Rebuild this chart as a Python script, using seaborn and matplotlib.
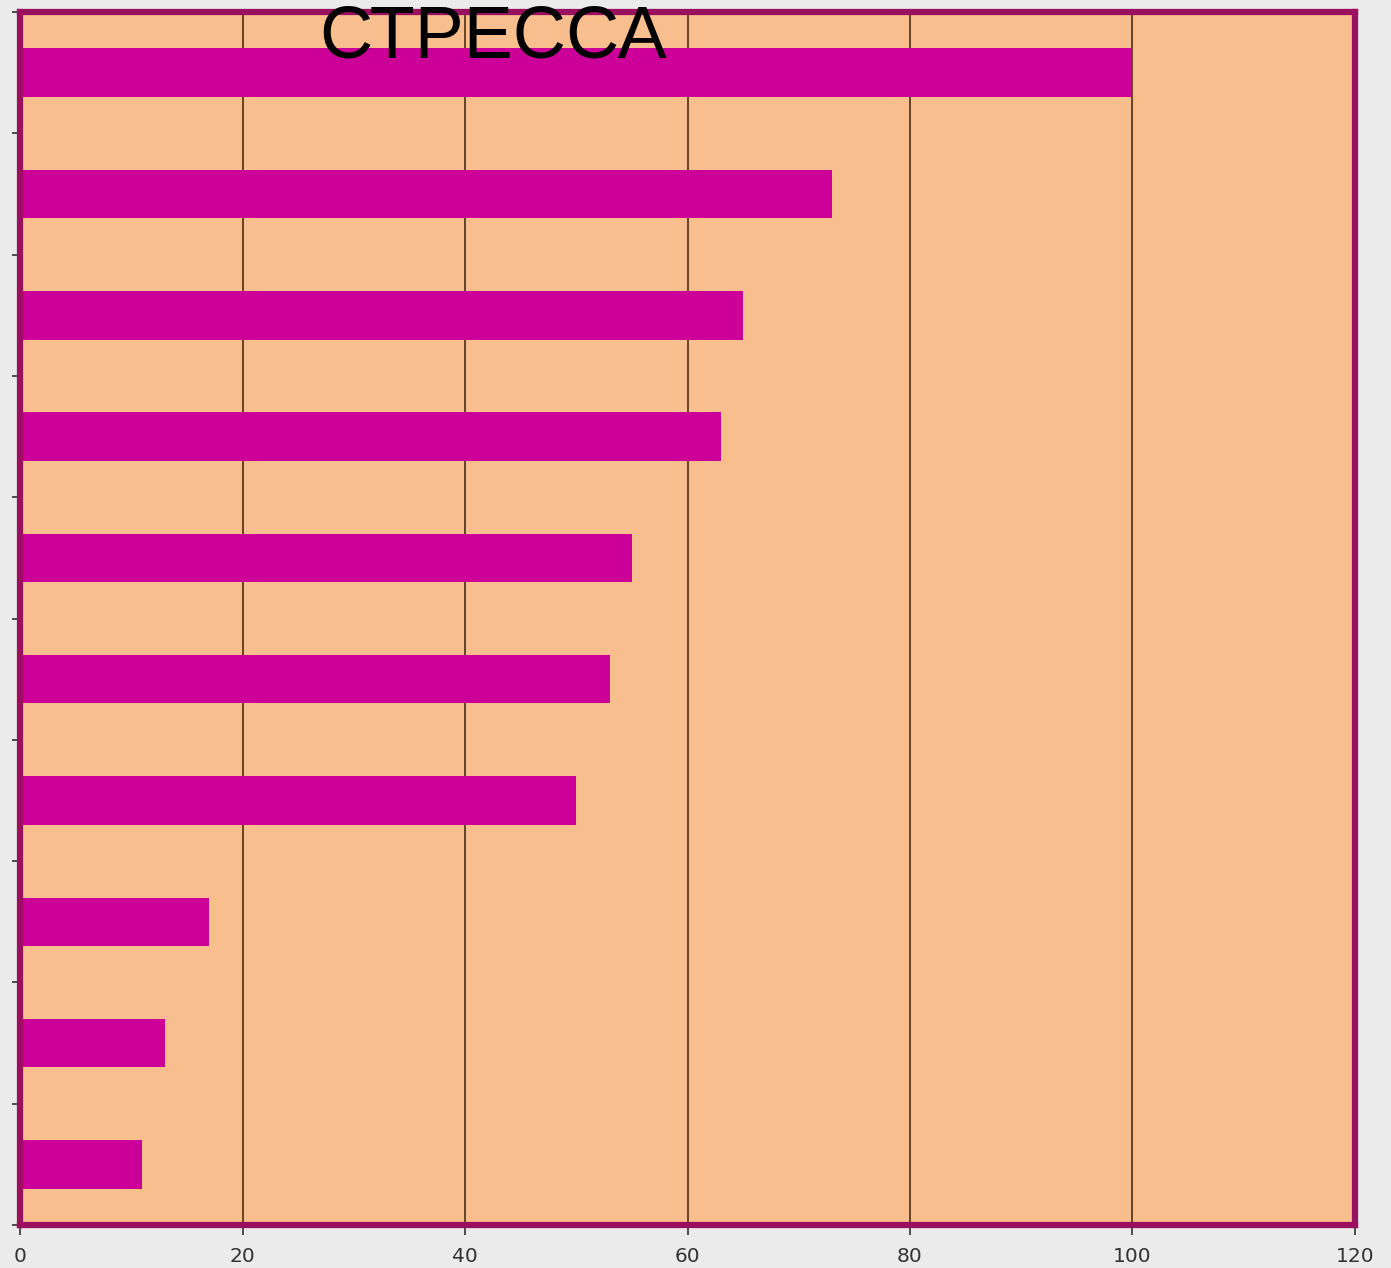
import matplotlib
matplotlib.use("Agg")
import matplotlib.pyplot as plt
import seaborn as sns
import numpy as np
import pandas as pd

categories = ["1", "2", "3", "4", "5", "6", "7", "8", "9", "10"]
values = [100, 73, 65, 63, 55, 53, 50, 17, 13, 11]
xticks = [0, 20, 40, 60, 80, 100, 120]
title = "СТРЕССА"

sns.set_theme(style="white")
plt.rcParams['font.family'] = ['Liberation Sans', 'DejaVu Sans']

df = pd.DataFrame({"cat": categories, "val": values})

fig = plt.figure(figsize=(13.91, 12.68), dpi=100, facecolor="#EBEBEB")
ax = fig.add_axes([0.0144, 0.0339, 0.9597, 0.9566])
ax.set_facecolor("#F8BE8E")

sns.barplot(data=df, y="cat", x="val", orient="h", color="#CC0099",
            saturation=1, width=0.4, ax=ax, zorder=3, linewidth=0,
            edgecolor="none")

ax.set_xlim(0, 120)
ax.set_ylim(9.5, -0.5)
ax.set_xticks(xticks)
ax.set_xticklabels([str(t) for t in xticks], fontsize=14.5, color="#333333",
                   family="DejaVu Sans")
ax.set_yticks(np.arange(-0.5, 10, 1))
ax.set_yticklabels([])
ax.tick_params(axis="x", bottom=True, direction="out", length=7, width=1.2,
               color="#333333", pad=9)
ax.tick_params(axis="y", left=True, direction="out", length=6, width=1.2,
               color="#333333")
ax.set_xlabel("")
ax.set_ylabel("")

for t in xticks[1:-1]:
    ax.axvline(t, color="#5A3A20", lw=1.3, zorder=1)
ax.grid(False)

for s in ax.spines.values():
    s.set_visible(True)
    s.set_color("#99105F")
    s.set_linewidth(4.5)
    s.set_zorder(5)

fig.text(0.3545, 0.9545, title, ha="center", va="baseline", fontsize=53,
         color="black", zorder=10)

fig.savefig("out.png", dpi=100, facecolor=fig.get_facecolor())
